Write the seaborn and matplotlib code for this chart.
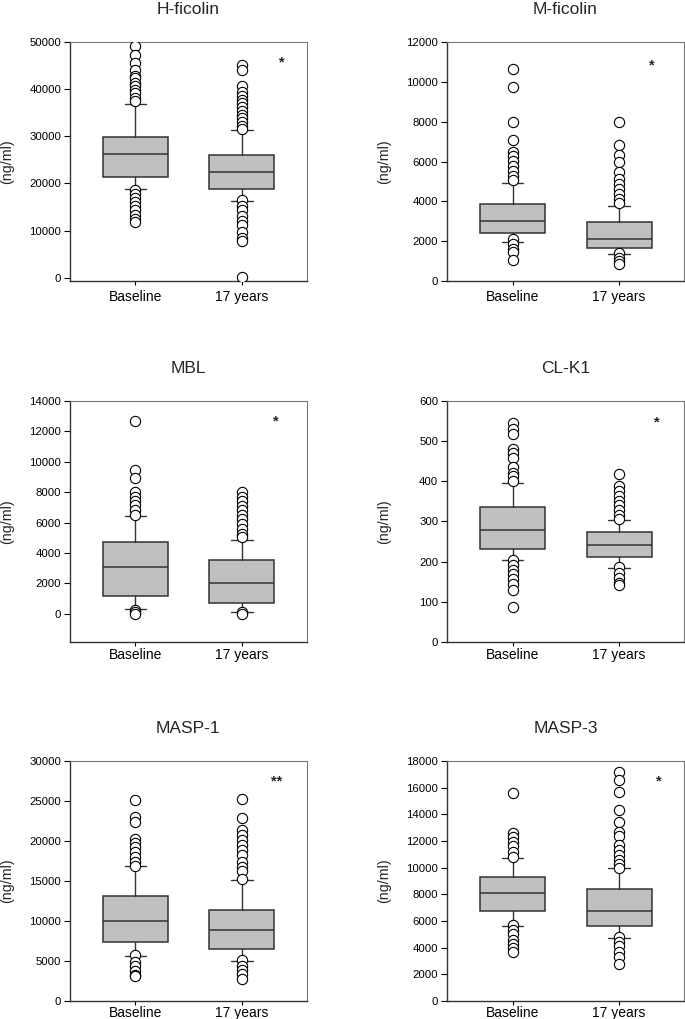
"""Six box plots: lectin pathway proteins at baseline and after 17 years."""
import matplotlib.pyplot as plt
import numpy as np
import pandas as pd
import seaborn as sns

groups = ["Baseline", "17 years"]
titles = ["H-ficolin", "M-ficolin", "MBL", "CL-K1", "MASP-1", "MASP-3"]
stars = ["*", "*", "*", "*", "**", "*"]
y_limits = [(-700, 50000), (0, 12000), (-1850, 14000), (0, 600), (0, 30000), (0, 18000)]
y_steps = [10000, 2000, 2000, 100, 5000, 2000]

# box statistics: (10th, 25th, median, 75th, 90th)
hfic_stats = [(18900, 21450, 26300, 29950, 36900), (16200, 18850, 22400, 26100, 31400)]
mfic_stats = [(1970, 2420, 3010, 3860, 4920), (1340, 1670, 2120, 2980, 3780)]
mbl_stats = [(350, 1180, 3050, 4700, 6430), (90, 720, 2000, 3530, 4870)]
clk1_stats = [(203, 232, 278, 337, 397), (184, 212, 241, 275, 304)]
masp1_stats = [(5670, 7420, 9960, 13170, 16900), (5040, 6540, 8830, 11330, 15100)]
masp3_stats = [(5600, 6750, 8080, 9280, 10700), (4700, 5630, 6750, 8430, 9950)]

# outliers (beyond 10th / 90th percentiles)
hfic_out = [
    [49100, 47300, 45600, 44000, 42900, 42300, 41400, 40600, 39900, 39100, 38200, 37600,
     18700, 17800, 16900, 16000, 15200, 14300, 13400, 12500, 11800],
    [45100, 44000, 40700, 39500, 38600, 37800, 37000, 36200, 35400, 34600, 33800, 33000,
     32300, 31600, 16400, 15300, 14300, 13200, 12000, 11100, 9700, 8400, 7900, 200],
]
mfic_out = [
    [10650, 9750, 7990, 7060, 6470, 6270, 6020, 5770, 5520, 5270, 5050,
     2090, 1870, 1620, 1470, 1050],
    [7980, 6820, 6340, 5990, 5470, 5100, 4880, 4600, 4350, 4130, 3900,
     1420, 1170, 1000, 840],
]
mbl_out = [
    [12700, 9460, 8950, 7990, 7700, 7440, 7150, 6820, 6500, 250, 100, 0],
    [7990, 7700, 7420, 7110, 6820, 6500, 6210, 5900, 5570, 5240, 5030, 130, 0],
]
clk1_out = [
    [544, 530, 517, 480, 470, 457, 435, 421, 413, 401,
     204, 191, 180, 168, 158, 145, 130, 86],
    [418, 389, 376, 364, 351, 341, 328, 317, 305, 186, 172, 160, 148, 143],
]
masp1_out = [
    [25100, 22960, 22400, 20300, 19700, 19200, 18600, 18000, 17400, 16900,
     5750, 4900, 4400, 3800, 3250, 3100],
    [25300, 22900, 21400, 20750, 20100, 19500, 18900, 18200, 17400, 16800, 16200, 15200,
     5100, 4400, 3900, 3400, 2800],
]
masp3_out = [
    [15600, 12600, 12300, 11950, 11600, 11200, 10800, 5700, 5300, 5000, 4600, 4250, 3950, 3700],
    [17200, 16600, 15700, 14300, 13450, 12700, 12400, 11700, 11300, 10950, 10600, 10300,
     9950, 4800, 4450, 4100, 3700, 3300, 2750],
]

all_stats = [hfic_stats, mfic_stats, mbl_stats, clk1_stats, masp1_stats, masp3_stats]
all_out = [hfic_out, mfic_out, mbl_out, clk1_out, masp1_out, masp3_out]

sns.set_theme(style="ticks")
plt.rcParams["font.family"] = ["Liberation Sans", "DejaVu Sans"]

EDGE = "#333333"
BOX = "#c0c0c0"

fig = plt.figure(figsize=(6.85, 10.19), dpi=100)
lefts = [0.102, 0.6526]
bottoms = [0.7242, 0.370, 0.0177]
heights = [0.2345, 0.2365, 0.2355]
xpads = [3.5, 1.0, 0.6]
star_pos = [(0.895, 0.929), (0.863, 0.918), (0.87, 0.93),
            (0.886, 0.927), (0.873, 0.933), (0.894, 0.933)]

for i, title in enumerate(titles):
    row, col = divmod(i, 2)
    ax = fig.add_axes([lefts[col], bottoms[row], 0.346, heights[row]])

    bxp_stats = []
    for lo, q1, med, q3, hi in all_stats[i]:
        bxp_stats.append(
            {"whislo": lo, "q1": q1, "med": med, "q3": q3, "whishi": hi, "fliers": []}
        )
    ax.bxp(
        bxp_stats,
        positions=[0, 1],
        widths=0.61,
        patch_artist=True,
        showfliers=False,
        boxprops=dict(facecolor=BOX, edgecolor=EDGE, linewidth=1.1),
        medianprops=dict(color=EDGE, linewidth=1.1),
        whiskerprops=dict(color=EDGE, linewidth=1.0),
        capprops=dict(color=EDGE, linewidth=1.0),
        capwidths=0.2,
    )

    out = pd.DataFrame(
        {
            "group": np.repeat(groups, [len(v) for v in all_out[i]]),
            "value": np.concatenate(all_out[i]),
        }
    )
    sns.stripplot(
        data=out, x="group", y="value", order=groups, jitter=False, ax=ax,
        color="white", edgecolor="black", linewidth=0.8, size=7.4, zorder=3,
    )

    ax.set_xlim(-0.615, 1.61)
    ax.set_ylim(*y_limits[i])
    ax.set_yticks(np.arange(0, y_limits[i][1] + 1, y_steps[i]))
    ax.set_xticks([0, 1])
    ax.set_xticklabels(groups, fontsize=10)
    ax.tick_params(axis="y", labelsize=8.2, length=4.3, width=0.8, pad=2.0, colors="black")
    ax.tick_params(axis="x", length=3.0, width=0.8, pad=xpads[row], colors="black")
    ax.set_xlabel("")
    ax.set_ylabel("(ng/ml)", fontsize=10.3)
    ax.yaxis.set_label_coords(-0.237, 0.5)
    ax.set_title(title, fontsize=12.5, pad=20.5)

    for side in ["left", "bottom"]:
        ax.spines[side].set_color(EDGE)
        ax.spines[side].set_linewidth(1.0)
    for side in ["top", "right"]:
        ax.spines[side].set_visible(True)
        ax.spines[side].set_color("#777777")
        ax.spines[side].set_linewidth(0.8)

    sx, sy = star_pos[i]
    ax.text(sx, sy - 0.033, stars[i], transform=ax.transAxes,
            ha="center", va="baseline", fontsize=10.5, fontweight="bold")

fig.savefig("out.png", dpi=100)
